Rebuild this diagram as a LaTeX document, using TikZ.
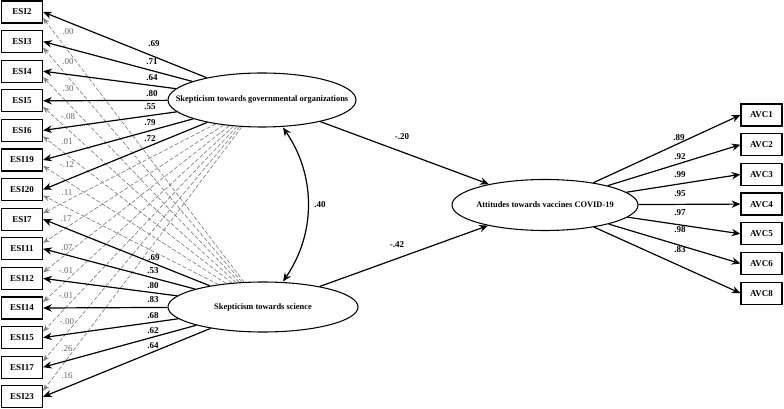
\documentclass[tikz,border=0pt]{standalone}
\usepackage{fontspec}
\setmainfont{Liberation Serif}
\usetikzlibrary{shapes.geometric,arrows.meta}
\tikzset{
  obsbox/.style={draw, line width=0.9pt, minimum width=30.75pt, minimum height=16.5pt, inner sep=0pt, font=\fontsize{6.75}{8}\selectfont\bfseries},
  latent/.style={ellipse, draw, line width=0.8pt, inner sep=0pt, font=\fontsize{6.3}{8}\selectfont\bfseries},
  load/.style={line width=0.9pt, -{Stealth[length=6.5pt,width=5.5pt]}},
  cross/.style={black!50, line width=0.5pt, dash pattern=on 3pt off 1.5pt, -{Stealth[length=5pt,width=4pt]}},
  cov/.style={line width=0.9pt, {Stealth[length=6.5pt,width=5.5pt]}-{Stealth[length=6.5pt,width=5.5pt]}},
  lab/.style={inner sep=0pt, font=\fontsize{6.75}{8}\selectfont\bfseries},
  glab/.style={inner sep=0pt, text=black!60, font=\fontsize{6.75}{8}\selectfont},
}
\begin{document}
\begin{tikzpicture}[x=0.75pt, y=-0.75pt]
\useasboundingbox (0,0) rectangle (784,409);
% observed indicators (left)
\node[obsbox] (E2)  at (22,12)    {ESI2};
\node[obsbox] (E3)  at (22,41.6)  {ESI3};
\node[obsbox] (E4)  at (22,71.2)  {ESI4};
\node[obsbox] (E5)  at (22,100.8) {ESI5};
\node[obsbox] (E6)  at (22,130.4) {ESI6};
\node[obsbox] (E19) at (22,160)   {ESI19};
\node[obsbox] (E20) at (22,189.6) {ESI20};
\node[obsbox] (E7)  at (22,219.2) {ESI7};
\node[obsbox] (E11) at (22,248.8) {ESI11};
\node[obsbox] (E12) at (22,278.4) {ESI12};
\node[obsbox] (E14) at (22,308)   {ESI14};
\node[obsbox] (E15) at (22,337.6) {ESI15};
\node[obsbox] (E17) at (22,367.2) {ESI17};
\node[obsbox] (E23) at (22,396.8) {ESI23};
% observed indicators (right)
\node[obsbox] (A1) at (761.5,115)   {AVC1};
\node[obsbox] (A2) at (761.5,144.7) {AVC2};
\node[obsbox] (A3) at (761.5,174.4) {AVC3};
\node[obsbox] (A4) at (761.5,204.1) {AVC4};
\node[obsbox] (A5) at (761.5,233.8) {AVC5};
\node[obsbox] (A6) at (761.5,263.5) {AVC6};
\node[obsbox] (A8) at (761.5,293.2) {AVC8};
% latent variables
\node[latent, minimum width=141pt, minimum height=40.5pt] (G) at (262,100) {\makebox[0pt]{Skepticism towards governmental organizations}};
\node[latent, minimum width=142.5pt, minimum height=37.5pt] (S) at (263,307) {\makebox[0pt]{Skepticism towards science}};
\node[latent, minimum width=139.5pt, minimum height=38.25pt] (A) at (545,205) {\makebox[0pt]{Attitudes towards vaccines COVID-19}};
% cross loadings (dashed)
\foreach \e in {E2,E3,E4,E5,E6,E19,E20}
  \draw[cross] (S) -- ([yshift=-4.5pt]\e.east);
\foreach \e in {E7,E11,E12,E14,E15,E17,E23}
  \draw[cross] (G) -- ([yshift=4.5pt]\e.east);
% loadings
\foreach \e in {E2,E3,E4,E5,E6,E19,E20}
  \draw[load] (G) -- (\e.east);
\foreach \e in {E7,E11,E12,E14,E15,E17,E23}
  \draw[load] (S) -- (\e.east);
\foreach \a in {A1,A2,A3,A4,A5,A6,A8}
  \draw[load] (A) -- (\a.west);
% structural paths
\draw[load] (G) -- (A);
\draw[load] (S) -- (A);
% covariance
\draw[cov] ([xshift=15.75pt]G.south) .. controls +(33,48) and +(33,-48) .. ([xshift=15pt]S.north);
% loading labels (governmental)
\node[lab] (g1) at (154,44)  {.69};
\node[lab] (g2) at (152,62)  {.71};
\node[lab] (g3) at (152,78)  {.64};
\node[lab] (g4) at (152,94)  {.80};
\node[lab] (g5) at (150,107) {.55};
\node[lab] (g6) at (150,123) {.79};
\node[lab] (g7) at (150,139) {.72};
% loading labels (science)
\node[lab] (s1) at (154,258) {.69};
\node[lab] (s2) at (153,271) {.53};
\node[lab] (s3) at (153,286) {.80};
\node[lab] (s4) at (153,300) {.83};
\node[lab] (s5) at (153,316) {.68};
\node[lab] (s6) at (153,331) {.62};
\node[lab] (s7) at (153,346) {.64};
% cross loading labels
\node[glab] (c1)  at (68,32)  {.00};
\node[glab] (c2)  at (68,62)  {.00};
\node[glab] (c3)  at (68,89)  {.30};
\node[glab] (c4)  at (68,117) {-.08};
\node[glab] (c5)  at (67,142) {.01};
\node[glab] (c6)  at (67,165) {-.12};
\node[glab] (c7)  at (67,193) {.11};
\node[glab] (c8)  at (66,219) {.17};
\node[glab] (c9)  at (67,248) {.07};
\node[glab] (c10) at (66,271) {-.01};
\node[glab] (c11) at (66,296) {-.01};
\node[glab] (c12) at (67,322) {-.00};
\node[glab] (c13) at (67,349) {.26};
\node[glab] (c14) at (67,376) {.16};
% attitude loading labels
\node[lab] (v1) at (679,138) {.89};
\node[lab] (v2) at (680,157) {.92};
\node[lab] (v3) at (680,175) {.99};
\node[lab] (v4) at (680,194) {.95};
\node[lab] (v5) at (680,213) {.97};
\node[lab] (v6) at (680,230) {.98};
\node[lab] (v7) at (680,250) {.83};
% structural labels
\node[lab] (p1) at (402,137) {-.20};
\node[lab] (p2) at (397,245) {-.42};
\node[lab] (r1) at (320,205) {.40};
\end{tikzpicture}
\end{document}
